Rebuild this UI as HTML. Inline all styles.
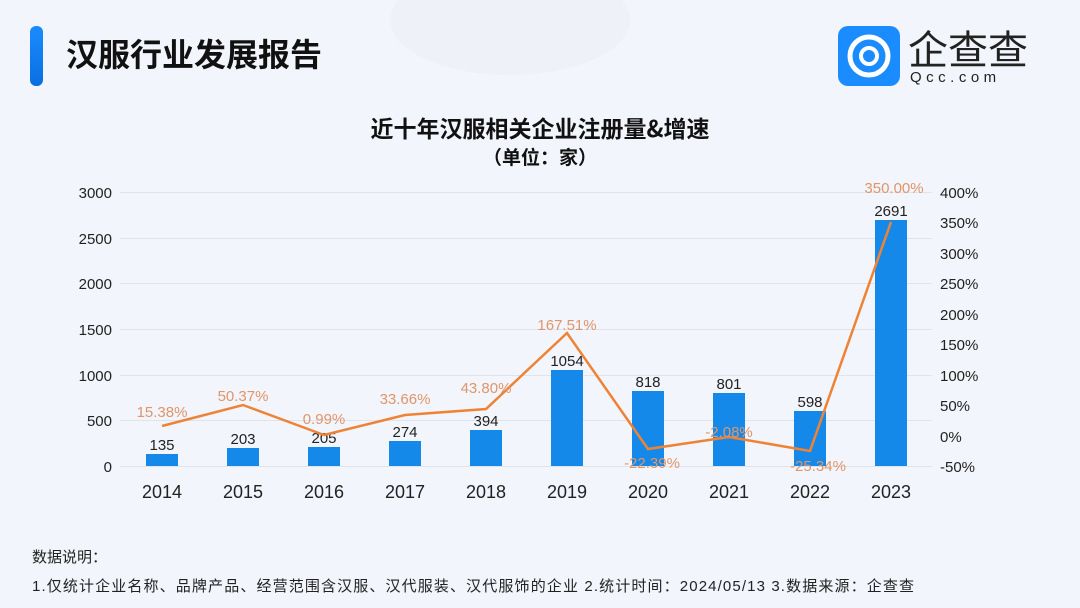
<!DOCTYPE html>
<html><head><meta charset="utf-8"><style>
body{margin:0;width:1080px;height:608px;overflow:hidden;background:#f2f5fb;font-family:"Liberation Sans","Noto Sans CJK SC",sans-serif;}
</style></head><body>
<svg width="1080" height="608" xmlns="http://www.w3.org/2000/svg" style="position:absolute;left:0;top:0">
<defs>
<linearGradient id="bar" x1="0" y1="0" x2="0" y2="1"><stop offset="0" stop-color="#1a8cff"/><stop offset="1" stop-color="#0a6fe0"/></linearGradient>
</defs>
<rect width="1080" height="608" fill="#f2f5fb"/>
<ellipse cx="510" cy="20" rx="120" ry="55" fill="#eef1f8"/>
<rect x="30" y="26" width="13" height="60" rx="6" fill="url(#bar)"/>
<text x="66" y="66" font-size="32" font-weight="bold" fill="#111" font-family="Noto Sans CJK SC, sans-serif">汉服行业发展报告</text>
<rect x="838" y="26" width="62" height="60" rx="10" fill="#1a8cff"/>
<circle cx="869" cy="56" r="19" fill="none" stroke="#fff" stroke-width="5"/>
<circle cx="869" cy="56" r="8" fill="none" stroke="#fff" stroke-width="4"/>
<text x="908" y="64" font-size="40" fill="#222" font-family="Noto Sans CJK SC, sans-serif">企查查</text>
<text x="910" y="82" font-size="15" fill="#222" letter-spacing="4.5">Qcc.com</text>
<text x="540" y="137" text-anchor="middle" font-size="23" font-weight="bold" fill="#111" font-family="Noto Sans CJK SC, sans-serif">近十年汉服相关企业注册量&amp;增速</text>
<text x="540" y="164" text-anchor="middle" font-size="19" font-weight="bold" fill="#111" font-family="Noto Sans CJK SC, sans-serif">（单位：家）</text>
<g stroke="#dfe3ea" stroke-width="1">
<line x1="120" x2="932" y1="192.5" y2="192.5"/><line x1="120" x2="932" y1="238.5" y2="238.5"/><line x1="120" x2="932" y1="283.5" y2="283.5"/><line x1="120" x2="932" y1="329.5" y2="329.5"/><line x1="120" x2="932" y1="375.5" y2="375.5"/><line x1="120" x2="932" y1="420.5" y2="420.5"/><line x1="120" x2="932" y1="466.5" y2="466.5"/>
</g>
<g font-size="15" fill="#222" text-anchor="end">
<text x="112" y="198">3000</text><text x="112" y="244">2500</text><text x="112" y="289">2000</text><text x="112" y="335">1500</text><text x="112" y="381">1000</text><text x="112" y="426">500</text><text x="112" y="472">0</text>
</g>
<g font-size="15" fill="#222">
<text x="940" y="198">400%</text><text x="940" y="228">350%</text><text x="940" y="259">300%</text><text x="940" y="289">250%</text><text x="940" y="320">200%</text><text x="940" y="350">150%</text><text x="940" y="381">100%</text><text x="940" y="411">50%</text><text x="940" y="442">0%</text><text x="940" y="472">-50%</text>
</g>
<g fill="#1589ea">
<rect x="146" y="454" width="32" height="12"/><rect x="227" y="448" width="32" height="18"/><rect x="308" y="447" width="32" height="19"/><rect x="389" y="441" width="32" height="25"/><rect x="470" y="430" width="32" height="36"/><rect x="551" y="370" width="32" height="96"/><rect x="632" y="391" width="32" height="75"/><rect x="713" y="393" width="32" height="73"/><rect x="794" y="411" width="32" height="55"/><rect x="875" y="220" width="32" height="246"/>
</g>
<g font-size="15" fill="#222" text-anchor="middle">
<text x="162" y="450">135</text><text x="243" y="444">203</text><text x="324" y="443">205</text><text x="405" y="437">274</text><text x="486" y="426">394</text><text x="567" y="366">1054</text><text x="648" y="387">818</text><text x="729" y="389">801</text><text x="810" y="407">598</text><text x="891" y="216">2691</text>
</g>
<polyline fill="none" stroke="#ee8335" stroke-width="2.5" points="162,426 243,405 324,435 405,415 486,409 567,333 648,449 729,437 810,451 891,222"/>
<g font-size="15" fill="#e0956a" text-anchor="middle">
<text x="162" y="417">15.38%</text><text x="243" y="401">50.37%</text><text x="324" y="424">0.99%</text><text x="405" y="404">33.66%</text><text x="486" y="393">43.80%</text><text x="567" y="330">167.51%</text><text x="652" y="468">-22.39%</text><text x="729" y="437">-2.08%</text><text x="818" y="471">-25.34%</text><text x="894" y="193">350.00%</text>
</g>
<g font-size="18" fill="#222" text-anchor="middle">
<text x="162" y="498">2014</text><text x="243" y="498">2015</text><text x="324" y="498">2016</text><text x="405" y="498">2017</text><text x="486" y="498">2018</text><text x="567" y="498">2019</text><text x="648" y="498">2020</text><text x="729" y="498">2021</text><text x="810" y="498">2022</text><text x="891" y="498">2023</text>
</g>
<text x="32" y="562" font-size="15" fill="#222">数据说明：</text>
<text x="32" y="591" font-size="15" fill="#222" textLength="882" lengthAdjust="spacing">1.仅统计企业名称、品牌产品、经营范围含汉服、汉代服装、汉代服饰的企业   2.统计时间：2024/05/13   3.数据来源：企查查</text>
</svg>
</body></html>
